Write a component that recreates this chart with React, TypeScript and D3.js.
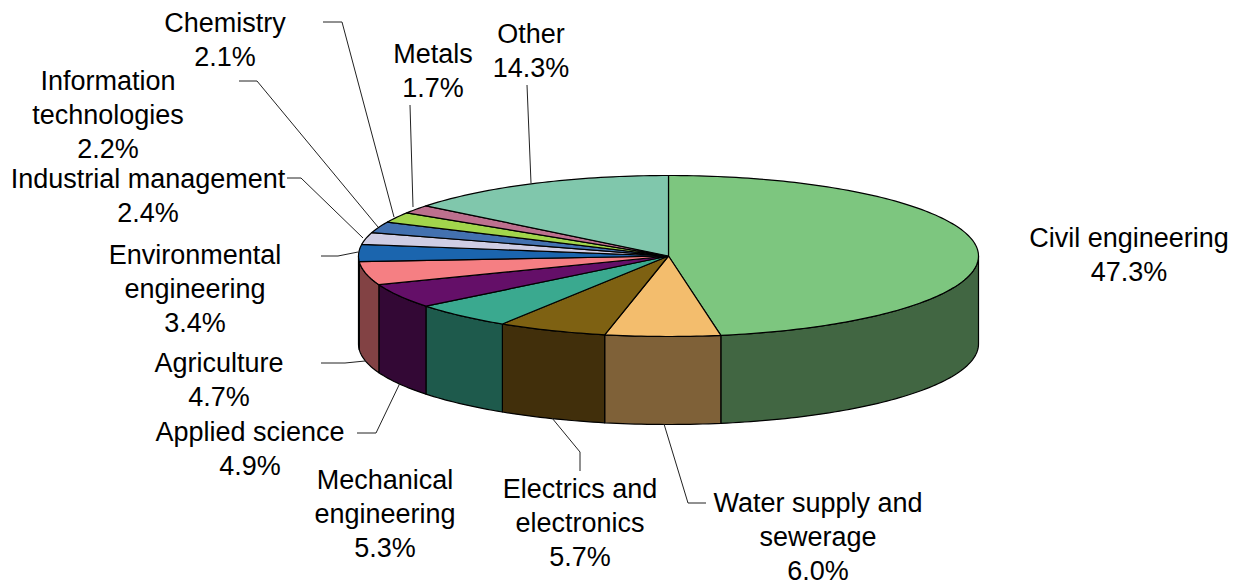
import React from "react";
import * as d3 from "d3";

// Share of projects by field, clockwise from twelve o'clock
const categories = [
  "Civil engineering",
  "Water supply and sewerage",
  "Electrics and electronics",
  "Mechanical engineering",
  "Applied science",
  "Agriculture",
  "Environmental engineering",
  "Industrial management",
  "Information technologies",
  "Chemistry",
  "Metals",
  "Other",
];
const shares = [47.3, 6.0, 5.7, 5.3, 4.9, 4.7, 3.4, 2.4, 2.2, 2.1, 1.7, 14.3];
const topColors = [
  "#7dc67f", "#f3bd6d", "#7e6112", "#3aa98f", "#640f68", "#f57f83",
  "#1b65ae", "#cfcde4", "#4371b0", "#a2d54c", "#bd708e", "#80c7ac",
];
const sideColors = [
  "#416642", "#7f6138", "#412f0b", "#1e5a4c", "#330835", "#824244",
  "#0f3a63", "#6c6b78", "#26405f", "#546e28", "#62394a", "#43695a",
];

// Wrapped label lines; the percentage is appended from shares
const labelLines = [
  ["Civil engineering"],
  ["Water supply and", "sewerage"],
  ["Electrics and", "electronics"],
  ["Mechanical", "engineering"],
  ["Applied science"],
  ["Agriculture"],
  ["Environmental", "engineering"],
  ["Industrial management"],
  ["Information", "technologies"],
  ["Chemistry"],
  ["Metals"],
  ["Other"],
];
// Centre x and first baseline of each label
const labelAnchors: [number, number][] = [
  [1129, 247], [818, 512], [580, 498], [385, 489], [250, 441], [219, 372],
  [195, 264], [148, 188], [108, 90], [225, 32], [433, 63], [531, 43],
];
// Leader polylines running from the label toward the slice
const leaders: [number, number][][] = [
  [], [[706, 503], [688, 503], [664, 424]], [[580, 471], [580, 452], [552, 418]], [],
  [[357, 433], [376, 433], [400, 383]], [[321, 363], [345, 363], [365, 361]],
  [[321, 256], [338, 256], [358, 252]], [[287, 178], [301, 178], [363, 238]],
  [[239, 81], [257, 81], [378, 227]], [[323, 22], [342, 22], [394, 217]],
  [[410, 105], [413, 207]], [[527, 85], [531, 183]],
];

const WIDTH = 1239;
const HEIGHT = 582;
const FONT_SIZE = 27;
const LINE_HEIGHT = 34;
const cx = 668.5;
const cy = 256;
const rx = 310;
const ry = 80.5;
const depth = 88;

const project = (t: number, dy = 0): [number, number] => [
  cx + rx * Math.sin(t),
  cy - ry * Math.cos(t) + dy,
];
const line = d3.line();

function arcPoints(a0: number, a1: number, dy = 0) {
  const n = Math.max(2, Math.ceil((a1 - a0) / 0.02));
  return d3.range(n + 1).map((i) => project(a0 + ((a1 - a0) * i) / n, dy));
}

export default function App() {
  const arcs = d3.pie<number>().sort(null)(shares);
  const HALF = Math.PI / 2;
  return (
    <svg
      width={WIDTH}
      height={HEIGHT}
      style={{ position: "absolute", left: 0, top: 0, background: "#fff" }}
      fontFamily="'Liberation Sans', Arial, sans-serif"
      fontSize={FONT_SIZE}
    >
      {/* Front wall of the disc, only where it faces the viewer */}
      {arcs.map((a, i) => {
        const s = Math.max(a.startAngle, HALF);
        const e = Math.min(a.endAngle, 3 * HALF);
        if (e <= s) return null;
        const pts = [...arcPoints(s, e), ...arcPoints(s, e, depth).reverse()];
        return (
          <path
            key={categories[i]}
            d={line(pts) + "Z"}
            fill={sideColors[i]}
            stroke="#000"
            strokeWidth={1.2}
            strokeLinejoin="round"
          />
        );
      })}
      {/* Top face */}
      {arcs.map((a, i) => (
        <path
          key={categories[i]}
          d={line([[cx, cy], ...arcPoints(a.startAngle, a.endAngle)]) + "Z"}
          fill={topColors[i]}
          stroke="#000"
          strokeWidth={1.2}
          strokeLinejoin="round"
        />
      ))}
      {/* Leader lines */}
      {leaders.map((pts, i) =>
        pts.length ? (
          <path key={i} d={line(pts) ?? ""} fill="none" stroke="#222" strokeWidth={1} />
        ) : null
      )}
      {/* Labels */}
      {categories.map((c, i) => (
        <text key={c} textAnchor="middle" fill="#000">
          {[...labelLines[i], `${shares[i].toFixed(1)}%`].map((t, j) => (
            <tspan key={j} x={labelAnchors[i][0]} y={labelAnchors[i][1] + j * LINE_HEIGHT}>
              {t}
            </tspan>
          ))}
        </text>
      ))}
    </svg>
  );
}
